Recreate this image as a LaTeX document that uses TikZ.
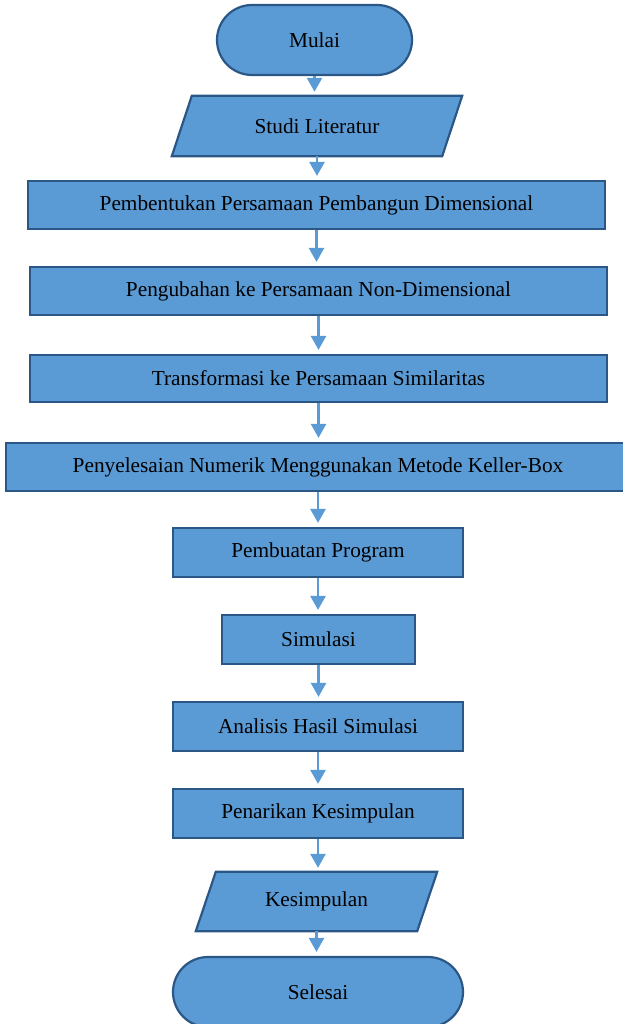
\documentclass[tikz,border=0pt]{standalone}
\usepackage{fontspec}
\setmainfont{Liberation Serif}
\usetikzlibrary{arrows.meta,backgrounds}
\definecolor{fillb}{HTML}{5B9BD5}
\definecolor{edgeb}{HTML}{2B5787}
\begin{document}
\begin{tikzpicture}[x=1pt,y=-1pt,
  txt/.style={font=\fontsize{21.3}{25}\selectfont, inner sep=0pt, align=center},
  base/.style={txt, fill=fillb, draw=edgeb, line width=2.2pt},
  procbox/.style={base, rectangle},
  termbox/.style={base, rectangle, rounded corners=35pt},
  iobox/.style={txt, rectangle},
  iofill/.style={fill=fillb, draw=edgeb, line width=2.2pt},
  arr/.style={draw=fillb, line width=2.6pt, -{Triangle[width=15pt,length=14pt]}, shorten >=4pt}]
\useasboundingbox (0,0) rectangle (622,1024);

\node[termbox, minimum width=195pt, minimum height=70pt] (mulai) at (314.5,40) {Mulai};
\node[iobox, minimum width=270pt, minimum height=60pt] (studi) at (317,126) {Studi Literatur};
\node[procbox, minimum width=577pt, minimum height=48pt] (b3) at (316.5,205) {Pembentukan Persamaan Pembangun Dimensional};
\node[procbox, minimum width=577pt, minimum height=48pt] (b4) at (318.5,291) {Pengubahan ke Persamaan Non-Dimensional};
\node[procbox, minimum width=577pt, minimum height=47pt] (b5) at (318.5,378.5) {Transformasi ke Persamaan Similaritas};
\node[procbox, minimum width=624pt, minimum height=48pt] (b6) at (318,467) {Penyelesaian Numerik Menggunakan Metode Keller-Box};
\node[procbox, minimum width=290pt, minimum height=49pt] (b7) at (318,552.5) {Pembuatan Program};
\node[procbox, minimum width=193pt, minimum height=49pt] (b8) at (318.5,639.5) {Simulasi};
\node[procbox, minimum width=290pt, minimum height=49pt] (b9) at (318,726.5) {Analisis Hasil Simulasi};
\node[procbox, minimum width=290pt, minimum height=49pt] (b10) at (318,813.5) {Penarikan Kesimpulan};
\node[iobox, minimum width=221pt, minimum height=59pt] (kes) at (316.5,901.5) {Kesimpulan};
\node[termbox, minimum width=290pt, minimum height=70pt] (selesai) at (318,992) {Selesai};

\begin{scope}[on background layer]
  \draw[iofill] ([xshift=10pt]studi.north west) -- ([xshift=10pt]studi.north east)
    -- ([xshift=-10pt]studi.south east) -- ([xshift=-10pt]studi.south west) -- cycle;
  \draw[iofill] ([xshift=10pt]kes.north west) -- ([xshift=10pt]kes.north east)
    -- ([xshift=-10pt]kes.south east) -- ([xshift=-10pt]kes.south west) -- cycle;
\end{scope}

\draw[arr] (mulai.south) -- (mulai.south |- studi.north);
\draw[arr] (studi.south) -- (studi.south |- b3.north);
\draw[arr] (b3.south) -- (b3.south |- b4.north);
\draw[arr] (b4.south) -- (b4.south |- b5.north);
\draw[arr] (b5.south) -- (b5.south |- b6.north);
\draw[arr] (b6.south) -- (b6.south |- b7.north);
\draw[arr] (b7.south) -- (b7.south |- b8.north);
\draw[arr] (b8.south) -- (b8.south |- b9.north);
\draw[arr] (b9.south) -- (b9.south |- b10.north);
\draw[arr] (b10.south) -- (b10.south |- kes.north);
\draw[arr] (kes.south) -- (kes.south |- selesai.north);
\end{tikzpicture}
\end{document}
